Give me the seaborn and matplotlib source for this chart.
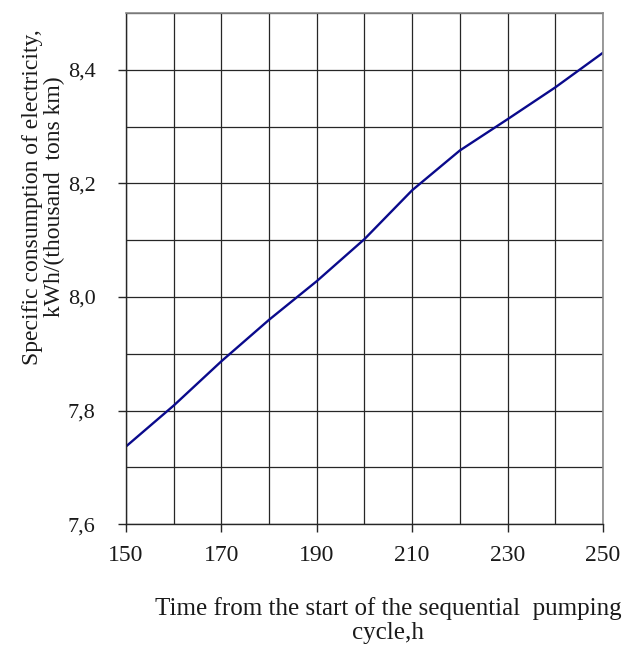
import matplotlib.pyplot as plt
import matplotlib.ticker as mticker
import pandas as pd
import seaborn as sns

# --- data ---
hours = [150, 160, 170, 180, 190, 200, 210, 220, 230, 240, 250]
consumption = [7.737, 7.809, 7.887, 7.960, 8.028, 8.102, 8.188, 8.258, 8.313, 8.369, 8.430]
x_ticks = [150, 170, 190, 210, 230, 250]
y_ticks = [7.6, 7.8, 8.0, 8.2, 8.4]

df = pd.DataFrame({"hours": hours, "consumption": consumption})

sns.set_theme(style="white")
plt.rcParams['font.family'] = ['Liberation Serif', 'DejaVu Serif']

fig = plt.figure(figsize=(6.4, 6.52), dpi=100)
ax = fig.add_axes([0.197, 0.196, 0.745, 0.784])

sns.lineplot(data=df, x="hours", y="consumption", color="#0a0a8c", linewidth=1.7, ax=ax)

ax.set_xlim(150, 250)
ax.set_ylim(7.6, 8.5)

ax.xaxis.set_major_locator(mticker.FixedLocator(x_ticks))
ax.xaxis.set_minor_locator(mticker.MultipleLocator(10))
ax.yaxis.set_major_locator(mticker.FixedLocator(y_ticks))
ax.yaxis.set_minor_locator(mticker.MultipleLocator(0.1))
ax.yaxis.set_major_formatter(mticker.FuncFormatter(lambda v, p: f"{v:.1f}".replace('.', ',')))

ax.grid(True, which='both', color='#262626', linewidth=0.9)
ax.tick_params(axis='both', which='major', direction='out', length=6, width=1, color='#262626',
               labelcolor='#1a1a1a', bottom=True, left=True)
ax.tick_params(axis='x', which='major', pad=9, labelsize=17)
ax.tick_params(axis='y', which='major', pad=16, labelsize=16)
ax.tick_params(which='minor', length=0)

for side in ['left', 'bottom']:
    ax.spines[side].set_color('#262626')
    ax.spines[side].set_linewidth(1.0)
for side in ['top', 'right']:
    ax.spines[side].set_color('#8a8a8a')
    ax.spines[side].set_linewidth(1.2)

ax.set_xlabel("Time from the start of the sequential  pumping\ncycle,h", fontsize=18, color='#1a1a1a',
              linespacing=1.1)
ax.xaxis.set_label_coords(0.549, -0.143)
ax.xaxis.label.set_va('top')

ax.set_ylabel("Specific consumption of electricity,\nkWh/(thousand  tons km)", fontsize=17,
              color='#1a1a1a', linespacing=1.05)
ax.yaxis.set_label_coords(-0.128, 0.64)

plt.savefig('out.png', dpi=100)
